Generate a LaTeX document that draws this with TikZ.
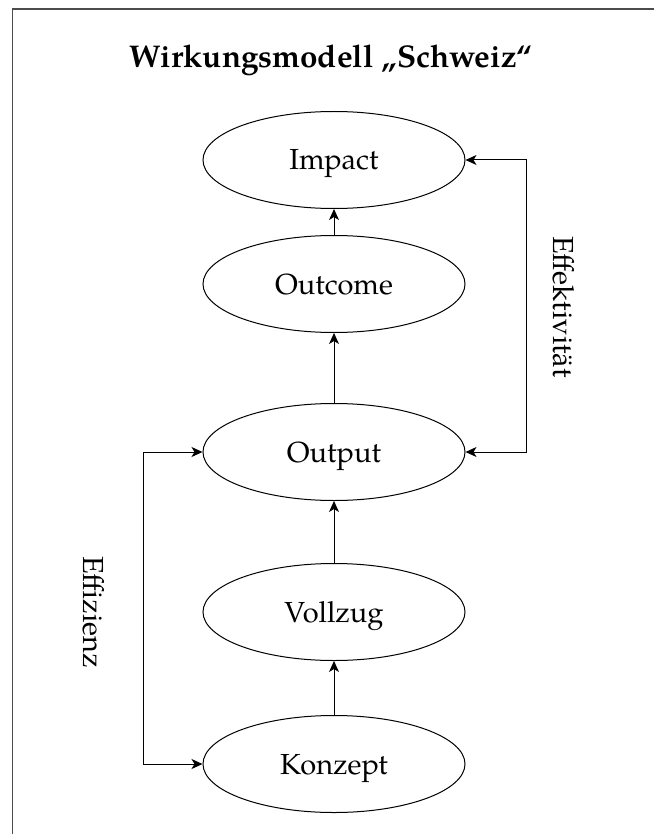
\documentclass[tikz,border=0pt]{standalone}
\usepackage{fontspec}
\setmainfont{TeX Gyre Pagella}
\usetikzlibrary{shapes.geometric,arrows.meta}
\begin{document}
\begin{tikzpicture}[x=1pt,y=1pt,
  tip/.tip={Stealth[length=11pt,width=10pt,inset=3pt]},
  oval/.style={ellipse,draw,line width=1pt,minimum width=262pt,minimum height=97pt,inner sep=0pt,text height=20pt,text depth=0pt,font=\fontsize{29}{34}\selectfont},
  conn/.style={line width=1pt,-tip},
  dconn/.style={line width=1pt,tip-tip},
  lbl/.style={rotate=-90,font=\fontsize{29}{34}\selectfont}]
\useasboundingbox (0,0) rectangle (654,-834);
\draw[line width=1.4pt,black!70] (12.5,-834) -- (12.5,-9) -- (654,-9);
\node[font=\fontsize{31.4}{36}\bfseries\selectfont,anchor=base] (title) at (331,-68) {Wirkungsmodell „Schweiz“};
\node[oval] (impact) at (334,-160) {Impact};
\node[oval] (outcome) at (334,-284) {Outcome};
\node[oval] (output) at (334,-452) {Output};
\node[oval] (vollzug) at (334,-612) {Vollzug};
\node[oval] (konzept) at (334,-764) {Konzept};
\draw[conn] (outcome) -- (impact);
\draw[conn] (output) -- (outcome);
\draw[conn] (vollzug) -- (output);
\draw[conn] (konzept) -- (vollzug);
\coordinate (r1) at (526,-160);
\coordinate (r2) at (526,-452);
\coordinate (l1) at (143,-452);
\coordinate (l2) at (143,-764);
\draw[dconn] (impact.east) -- (r1) -- (r2) -- (output.east);
\draw[dconn] (output.west) -- (l1) -- (l2) -- (konzept.west);
\node[lbl] (eff) at (564,-307) {Effektivität};
\node[lbl] (effz) at (94,-612) {Effizienz};
\end{tikzpicture}
\end{document}
